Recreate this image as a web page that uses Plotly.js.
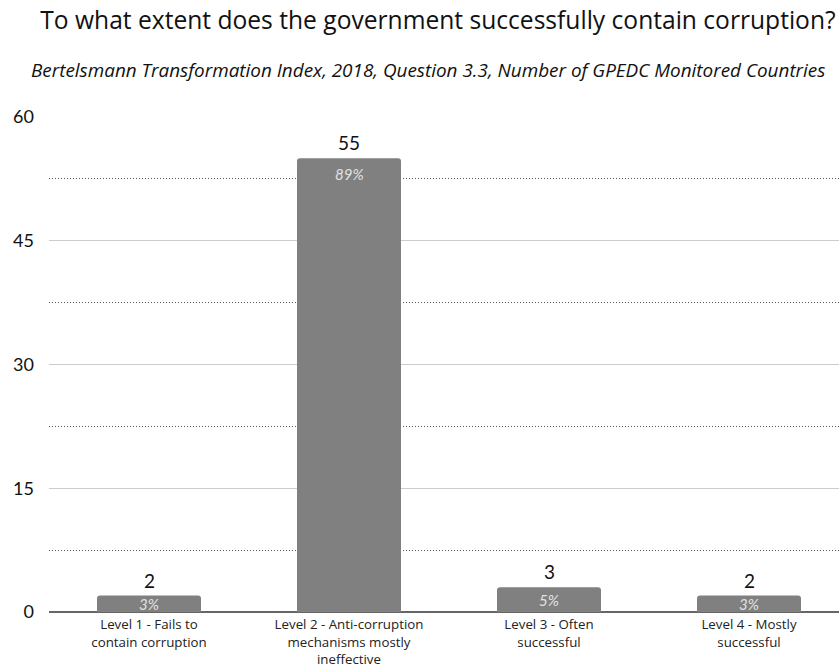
<!DOCTYPE html>
<html><head><meta charset="utf-8">
<script src="https://cdn.plot.ly/plotly-3.0.1.min.js"></script>
<style>body{margin:0;background:#fff}#c{width:839px;height:670px}</style>
</head><body><div id="c"></div>
<script>
const categories = [
  "Level 1 - Fails to<br>contain corruption",
  "Level 2 - Anti-corruption<br>mechanisms mostly<br>ineffective",
  "Level 3 - Often<br>successful",
  "Level 4 - Mostly<br>successful"
];
const counts = [2, 55, 3, 2];
const percents = ["3%", "89%", "5%", "3%"];
const yTicks = [0, 15, 30, 45, 60];

const FONT = "'Open Sans', Lato, sans-serif";
const NUMFONT = "Lato, 'Open Sans', sans-serif";

const Y_MAX = 60, PLOT_H = 495;
const pxPerUnit = PLOT_H / Y_MAX;

const trace = {
  type: "bar",
  x: categories,
  y: counts,
  width: 0.52,
  marker: {color: "#808080", cornerradius: 3, line: {width: 0}},
  hoverinfo: "skip"
};

const annotations = [];
categories.forEach((c, i) => {
  annotations.push({
    x: c, y: counts[i], xref: "x", yref: "y",
    text: String(counts[i]), showarrow: false,
    yanchor: "bottom", yshift: 2,
    font: {family: NUMFONT, size: 19, color: "#111"}
  });
  annotations.push({
    x: c, y: Math.max(counts[i] / 2, counts[i] - 16 / pxPerUnit), xref: "x", yref: "y",
    text: percents[i], showarrow: false,
    yanchor: "middle",
    font: {family: NUMFONT, size: 15, color: "#e2e2e2", style: "italic"}
  });
});
annotations.push({
  xref: "paper", yref: "paper", x: 0.48, y: 1, xanchor: "center", yanchor: "middle",
  yshift: 47,
  text: "Bertelsmann Transformation Index, 2018, Question 3.3, Number of GPEDC Monitored Countries",
  showarrow: false,
  font: {family: FONT, size: 18.9, color: "#111", style: "italic"}
});

const layout = {
  width: 839, height: 670,
  margin: {l: 49, r: 0, t: 117, b: 58},
  paper_bgcolor: "#fff", plot_bgcolor: "#fff",
  showlegend: false,
  title: {text: "To what extent does the government successfully contain corruption?",
          x: 0.522, xanchor: "center", y: 0.97, yanchor: "middle",
          font: {family: FONT, size: 24.6, color: "#111"}},
  xaxis: {
    type: "category", range: [-0.5, 3.45],
    showgrid: false, ticks: "", showline: false, zeroline: false,
    ticklabelstandoff: 3,
    tickfont: {family: FONT, size: 13.3, color: "#222"},
    fixedrange: true
  },
  yaxis: {
    range: [0, Y_MAX], tickvals: yTicks, ticktext: yTicks.map(String),
    showgrid: true, gridcolor: "#cccccc", gridwidth: 1,
    zeroline: true, zerolinecolor: "#666", zerolinewidth: 1.5,
    showline: false, ticks: "",
    ticklabelstandoff: 14,
    tickfont: {family: NUMFONT, size: 18, color: "#111"},
    minor: {dtick: 7.5, tick0: 0, showgrid: true, gridcolor: "#555", griddash: "1px,2px", gridwidth: 1, ticks: ""},
    fixedrange: true
  },
  annotations: annotations,
  font: {family: FONT}
};

Plotly.newPlot("c", [trace], layout, {displayModeBar: false, staticPlot: true});
</script></body></html>
